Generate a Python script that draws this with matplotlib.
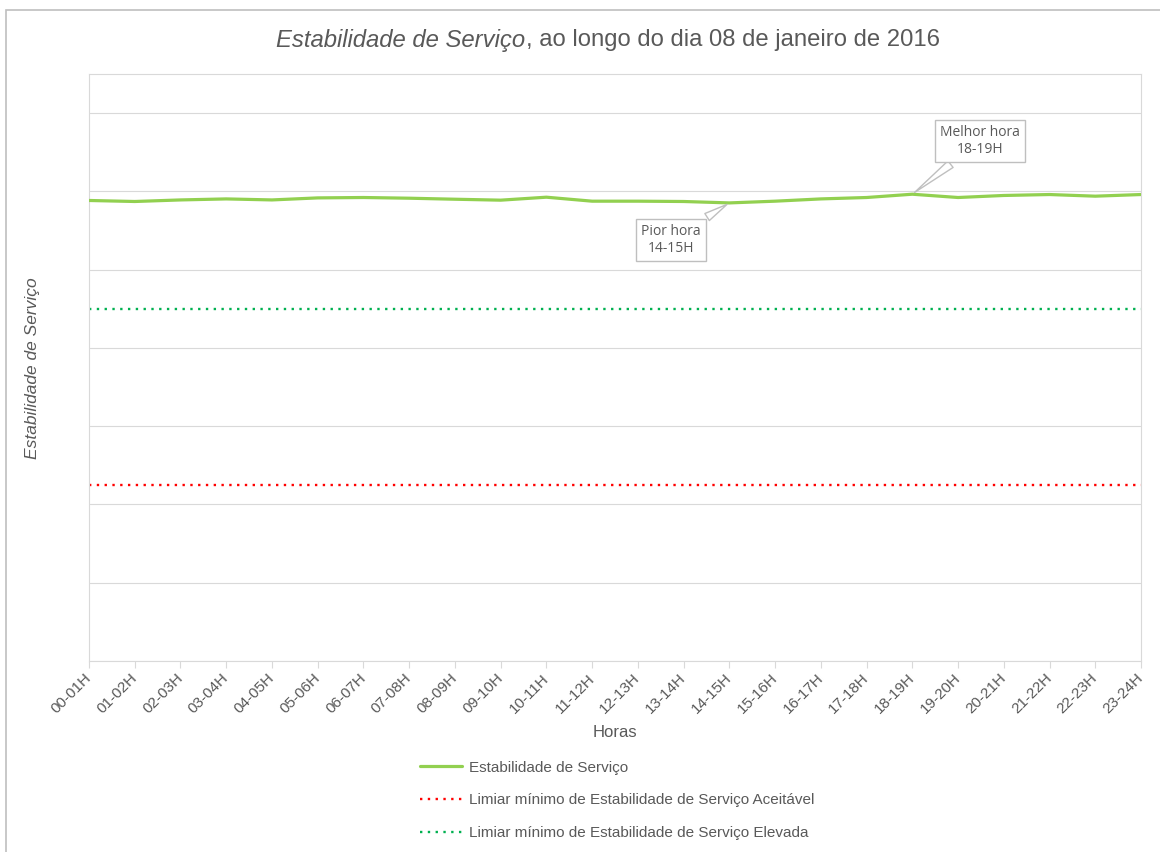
import matplotlib
matplotlib.use("Agg")
import matplotlib.pyplot as plt
from matplotlib.patches import Rectangle

plt.rcParams['font.family'] = ['Liberation Sans', 'DejaVu Sans']

hours = ["00-01H", "01-02H", "02-03H", "03-04H", "04-05H", "05-06H", "06-07H", "07-08H",
         "08-09H", "09-10H", "10-11H", "11-12H", "12-13H", "13-14H", "14-15H", "15-16H",
         "16-17H", "17-18H", "18-19H", "19-20H", "20-21H", "21-22H", "22-23H", "23-24H"]
estabilidade = [5.884, 5.871, 5.891, 5.904, 5.891, 5.917, 5.922, 5.913,
                5.900, 5.888, 5.926, 5.875, 5.875, 5.871, 5.853, 5.875,
                5.904, 5.922, 5.964, 5.922, 5.948, 5.960, 5.939, 5.960]
limiar_aceitavel = 2.25
limiar_elevada = 4.5
y_max = 7.5
y_ticks = [0, 1, 2, 3, 4, 5, 6, 7]

W, H = 1160, 852
fig = plt.figure(figsize=(W / 100, H / 100), dpi=100)
TXT = '#595959'
GRID = '#d9d9d9'

# outer chart border
fig.patches.append(Rectangle((6 / W, -0.1), 1.2, 1 - 10 / H + 0.1, transform=fig.transFigure,
                             fill=False, ec='#bfbfbf', lw=1.2))

ax = fig.add_axes([89 / W, 1 - 661 / H, (1141 - 89) / W, (661 - 74) / H])
x = list(range(len(hours)))

ax.plot(x, estabilidade, color='#92d050', lw=2.3, solid_capstyle='round', zorder=3,
        label='Estabilidade de Serviço')
ax.axhline(limiar_aceitavel, color='#ff0000', lw=1.7, ls=(0, (1, 2.3)),
           label='Limiar mínimo de Estabilidade de Serviço Aceitável')
ax.axhline(limiar_elevada, color='#00b050', lw=1.7, ls=(0, (1, 2.3)),
           label='Limiar mínimo de Estabilidade de Serviço Elevada')

ax.set_xlim(0, len(hours) - 1)
ax.set_ylim(0, y_max)
ax.set_yticks(y_ticks)
ax.yaxis.grid(True, color=GRID, lw=0.8)
ax.tick_params(axis='y', length=0, labelleft=False)
ax.set_xticks(x)
ax.set_xticklabels(hours, rotation=45, ha='right', va='center', rotation_mode='anchor',
                   fontsize=11, color=TXT)
ax.tick_params(axis='x', length=5, color=GRID, pad=6)
for s in ax.spines.values():
    s.set_color(GRID)
    s.set_linewidth(0.8)
ax.set_axisbelow(True)

ax.set_xlabel('Horas', fontsize=12, color=TXT, labelpad=6)
fig.text(33 / W, 1 - 368 / H, 'Estabilidade de Serviço', rotation=90, style='italic',
         fontsize=12.5, color=TXT, ha='center', va='center')

# annotations
imin = estabilidade.index(min(estabilidade))
imax = estabilidade.index(max(estabilidade))
box = dict(boxstyle='square,pad=0.35', fc='white', ec='#bfbfbf', lw=1)
arrow = dict(arrowstyle='wedge,tail_width=0.6,shrink_factor=0.5', fc='white', ec='#bfbfbf', lw=1)
ax.annotate('Melhor hora\n' + hours[imax], xy=(imax, estabilidade[imax]),
            xytext=(980 / W, 1 - 141 / H), textcoords='figure fraction', ha='center', va='center',
            fontsize=10, color=TXT, family=['Open Sans', 'DejaVu Sans'], linespacing=1.2,
            bbox=box, arrowprops=arrow, zorder=5)
ax.annotate('Pior hora\n' + hours[imin], xy=(imin, estabilidade[imin]),
            xytext=(671 / W, 1 - 240 / H), textcoords='figure fraction', ha='center', va='center',
            fontsize=10, color=TXT, family=['Open Sans', 'DejaVu Sans'], linespacing=1.2,
            bbox=box, arrowprops=arrow, zorder=5)

# legend
fig.legend(loc='upper left', bbox_to_anchor=(406 / W, 1 - 747 / H), frameon=False,
           fontsize=11, labelcolor=TXT, handlelength=2.75, handletextpad=0.45, labelspacing=1.22)

# title with mixed style
ty = 1 - 40 / H
t1 = fig.text(0, ty, 'Estabilidade de Serviço', style='italic', fontsize=17.2, color=TXT,
              ha='left', va='center')
t2 = fig.text(0, ty, ', ao longo do dia 08 de janeiro de 2016', fontsize=17.2, color=TXT,
              ha='left', va='center')
fig.canvas.draw()
r = fig.canvas.get_renderer()
w1 = t1.get_window_extent(r).width
w2 = t2.get_window_extent(r).width
x0 = 608 - (w1 + w2) / 2
t1.set_x(x0 / W)
t2.set_x((x0 + w1) / W)

fig.savefig('out.png', dpi=100, facecolor='white')
